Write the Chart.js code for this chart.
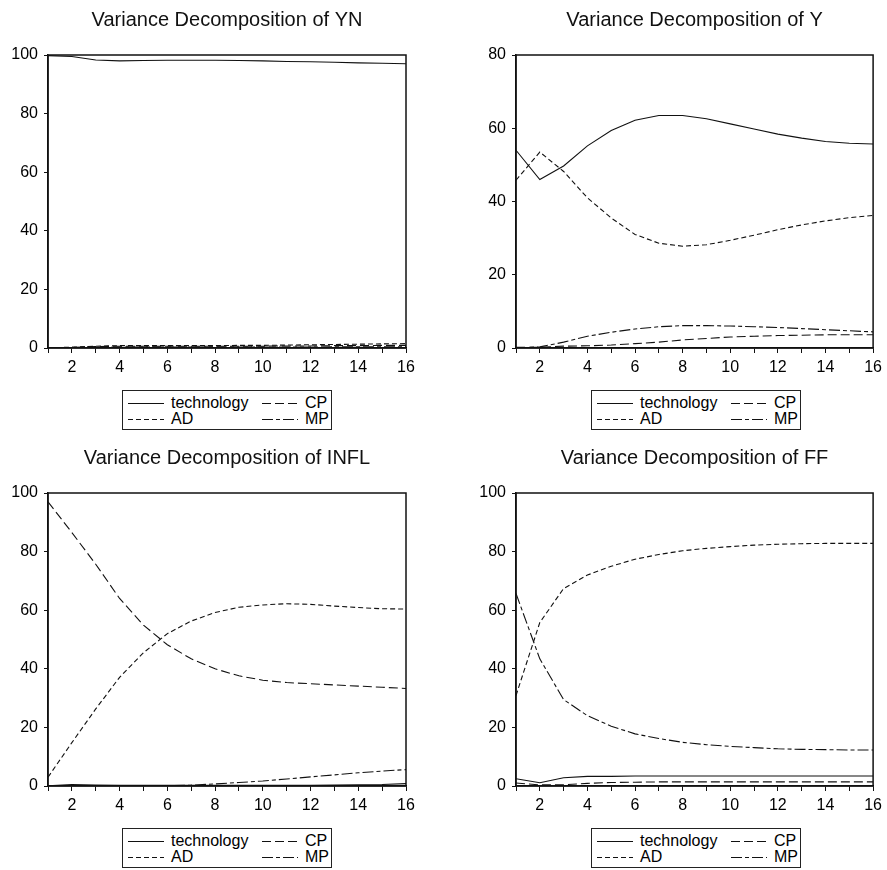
<!DOCTYPE html>
<html>
<head>
<meta charset="utf-8">
<script src="https://cdn.jsdelivr.net/npm/chart.js@4/dist/chart.umd.min.js"></script>
<style>
    body { margin: 0; background: #fff; font-family: "Liberation Sans", Arial, sans-serif; }
    canvas { position: absolute; }
    .legend {
        position: absolute;
        width: 210px;
        height: 40px;
        box-sizing: border-box;
        border: 1px solid #222;
        padding: 4px 0 0 5px;
        display: grid;
        grid-template-columns: 134px 70px;
        grid-auto-rows: 16px;
        font-size: 16px;
        line-height: 16px;
        color: #000;
    }
    .legend span { display: flex; align-items: center; white-space: nowrap; }
    .legend svg { margin-right: 7px; flex: none; }
</style>
</head>
<body>
<canvas id="yn" width="443" height="385" style="left:0;top:0"></canvas>
<canvas id="y" width="419" height="385" style="left:468px;top:0"></canvas>
<canvas id="infl" width="443" height="385" style="left:0;top:438px"></canvas>
<canvas id="ff" width="419" height="385" style="left:468px;top:438px"></canvas>

<script>
const periods = [1, 2, 3, 4, 5, 6, 7, 8, 9, 10, 11, 12, 13, 14, 15, 16]
const shocks = ['technology', 'CP', 'AD', 'MP']

// Variance decomposition of YN
const ynTech = [99.8, 99.5, 98.3, 98.0, 98.1, 98.2, 98.2, 98.2, 98.1, 98.0, 97.8, 97.7, 97.5, 97.3, 97.2, 97.0]
const ynCP = [0.1, 0.2, 0.5, 0.6, 0.6, 0.6, 0.6, 0.6, 0.6, 0.6, 0.7, 0.7, 0.8, 0.8, 0.9, 0.9]
const ynAD = [0.0, 0.3, 0.6, 0.8, 0.8, 0.8, 0.8, 0.8, 0.9, 0.9, 1.0, 1.1, 1.2, 1.3, 1.4, 1.5]
const ynMP = [0.1, 0.1, 0.2, 0.3, 0.3, 0.3, 0.3, 0.3, 0.3, 0.3, 0.3, 0.3, 0.4, 0.4, 0.4, 0.4]

// Variance decomposition of Y
const yTech = [54.0, 46.0, 49.7, 55.2, 59.4, 62.2, 63.5, 63.5, 62.6, 61.2, 59.8, 58.4, 57.3, 56.4, 55.9, 55.7]
const yCP = [0.2, 0.2, 0.5, 0.6, 0.8, 1.2, 1.6, 2.2, 2.6, 3.0, 3.2, 3.4, 3.5, 3.6, 3.6, 3.6]
const yAD = [45.8, 53.5, 48.2, 41.0, 35.5, 31.0, 28.6, 27.8, 28.2, 29.4, 30.8, 32.3, 33.6, 34.7, 35.6, 36.2]
const yMP = [0.0, 0.3, 1.6, 3.2, 4.3, 5.2, 5.8, 6.1, 6.1, 6.0, 5.8, 5.6, 5.3, 5.0, 4.7, 4.4]

// Variance decomposition of INFL
const inflTech = [0.1, 0.5, 0.3, 0.2, 0.2, 0.2, 0.2, 0.2, 0.2, 0.2, 0.2, 0.2, 0.3, 0.4, 0.5, 0.8]
const inflCP = [97.0, 86.5, 75.7, 64.0, 54.9, 48.2, 43.4, 40.0, 37.6, 36.1, 35.3, 34.9, 34.5, 34.1, 33.7, 33.3]
const inflAD = [3.0, 14.8, 26.3, 37.1, 45.5, 52.0, 56.3, 59.2, 61.0, 61.8, 62.2, 62.0, 61.4, 60.9, 60.5, 60.4]
const inflMP = [0.0, 0.1, 0.1, 0.1, 0.1, 0.1, 0.3, 0.7, 1.2, 1.7, 2.4, 3.1, 3.8, 4.5, 5.1, 5.6]

// Variance decomposition of FF
const ffTech = [2.5, 1.1, 2.8, 3.3, 3.3, 3.4, 3.4, 3.4, 3.4, 3.4, 3.4, 3.4, 3.4, 3.4, 3.4, 3.4]
const ffCP = [1.0, 0.4, 0.4, 0.9, 1.2, 1.3, 1.4, 1.4, 1.4, 1.4, 1.4, 1.4, 1.4, 1.4, 1.4, 1.4]
const ffAD = [30.9, 55.8, 67.4, 72.0, 75.0, 77.4, 79.0, 80.3, 81.1, 81.7, 82.2, 82.5, 82.7, 82.8, 82.8, 82.8]
const ffMP = [65.7, 43.4, 29.5, 24.0, 20.4, 17.8, 16.2, 14.9, 14.1, 13.5, 13.1, 12.7, 12.5, 12.4, 12.3, 12.3]

// line styles per shock
const dashes = [[], [9, 4], [5, 3], [11, 3, 4, 3]]

Chart.defaults.font.family = '"Liberation Sans", Arial, sans-serif'
Chart.defaults.font.size = 16
Chart.defaults.color = '#000'

// box around the plot area
const frame = {
    id: 'frame',
    afterDraw(chart) {
        const { ctx, chartArea: a } = chart
        ctx.save()
        ctx.strokeStyle = '#111'
        ctx.lineWidth = 1.5
        ctx.strokeRect(a.left, a.top, a.right - a.left, a.bottom - a.top)
        ctx.restore()
    },
}

function makePanel(id, title, yMax, series, left, top, padRight, plotWidth) {
    new Chart(document.getElementById(id), {
        type: 'line',
        data: {
            labels: periods,
            datasets: series.map((d, i) => ({
                label: shocks[i],
                data: d,
                borderColor: '#111',
                borderWidth: 1.1,
                borderDash: dashes[i],
                pointRadius: 0,
                tension: 0,
                fill: false,
            })),
        },
        options: {
            responsive: false,
            animation: false,
            layout: { padding: { left: 8, right: padRight, top: 0, bottom: 5 } },
            plugins: {
                legend: { display: false },
                tooltip: { enabled: false },
                title: {
                    display: true,
                    text: title,
                    fullSize: false,
                    color: '#111',
                    font: { size: 20, weight: 'normal', lineHeight: 1.2 },
                    padding: { top: 8, bottom: 23 },
                },
            },
            scales: {
                x: {
                    type: 'linear',
                    min: 1,
                    max: 16,
                    afterFit: (s) => { s.height = 32 },
                    ticks: {
                        stepSize: 1,
                        autoSkip: false,
                        maxRotation: 0,
                        padding: 5,
                        callback: (v) => (v % 2 === 0 ? v : ''),
                    },
                    grid: { drawOnChartArea: false, tickLength: 5, color: '#111' },
                    border: { color: '#111', width: 1.5 },
                },
                y: {
                    min: 0,
                    max: yMax,
                    afterFit: (s) => { s.width = 40 },
                    ticks: { stepSize: 20, padding: 6 },
                    grid: { drawOnChartArea: false, tickLength: 4, color: '#111' },
                    border: { color: '#111', width: 1.5 },
                },
            },
        },
        plugins: [frame],
    })

    // legend box under the plot
    const box = document.createElement('div')
    box.className = 'legend'
    box.style.left = (left + 48 + plotWidth / 2 - 105) + 'px'
    box.style.top = (top + 348 + 42) + 'px'
    shocks.forEach((name, i) => {
        const item = document.createElement('span')
        item.innerHTML =
            '<svg width="36" height="16"><line x1="0" y1="8.5" x2="36" y2="8.5" stroke="#111" stroke-width="1"' +
            (dashes[i].length ? ' stroke-dasharray="' + dashes[i].join(' ') + '"' : '') +
            '/></svg>' + name
        box.appendChild(item)
    })
    document.body.appendChild(box)
}

makePanel('yn', 'Variance Decomposition of YN', 100, [ynTech, ynCP, ynAD, ynMP], 0, 0, 37, 358)
makePanel('y', 'Variance Decomposition of Y', 80, [yTech, yCP, yAD, yMP], 468, 0, 11, 360)
makePanel('infl', 'Variance Decomposition of INFL', 100, [inflTech, inflCP, inflAD, inflMP], 0, 438, 37, 358)
makePanel('ff', 'Variance Decomposition of FF', 100, [ffTech, ffCP, ffAD, ffMP], 468, 438, 11, 360)
</script>
</body>
</html>
